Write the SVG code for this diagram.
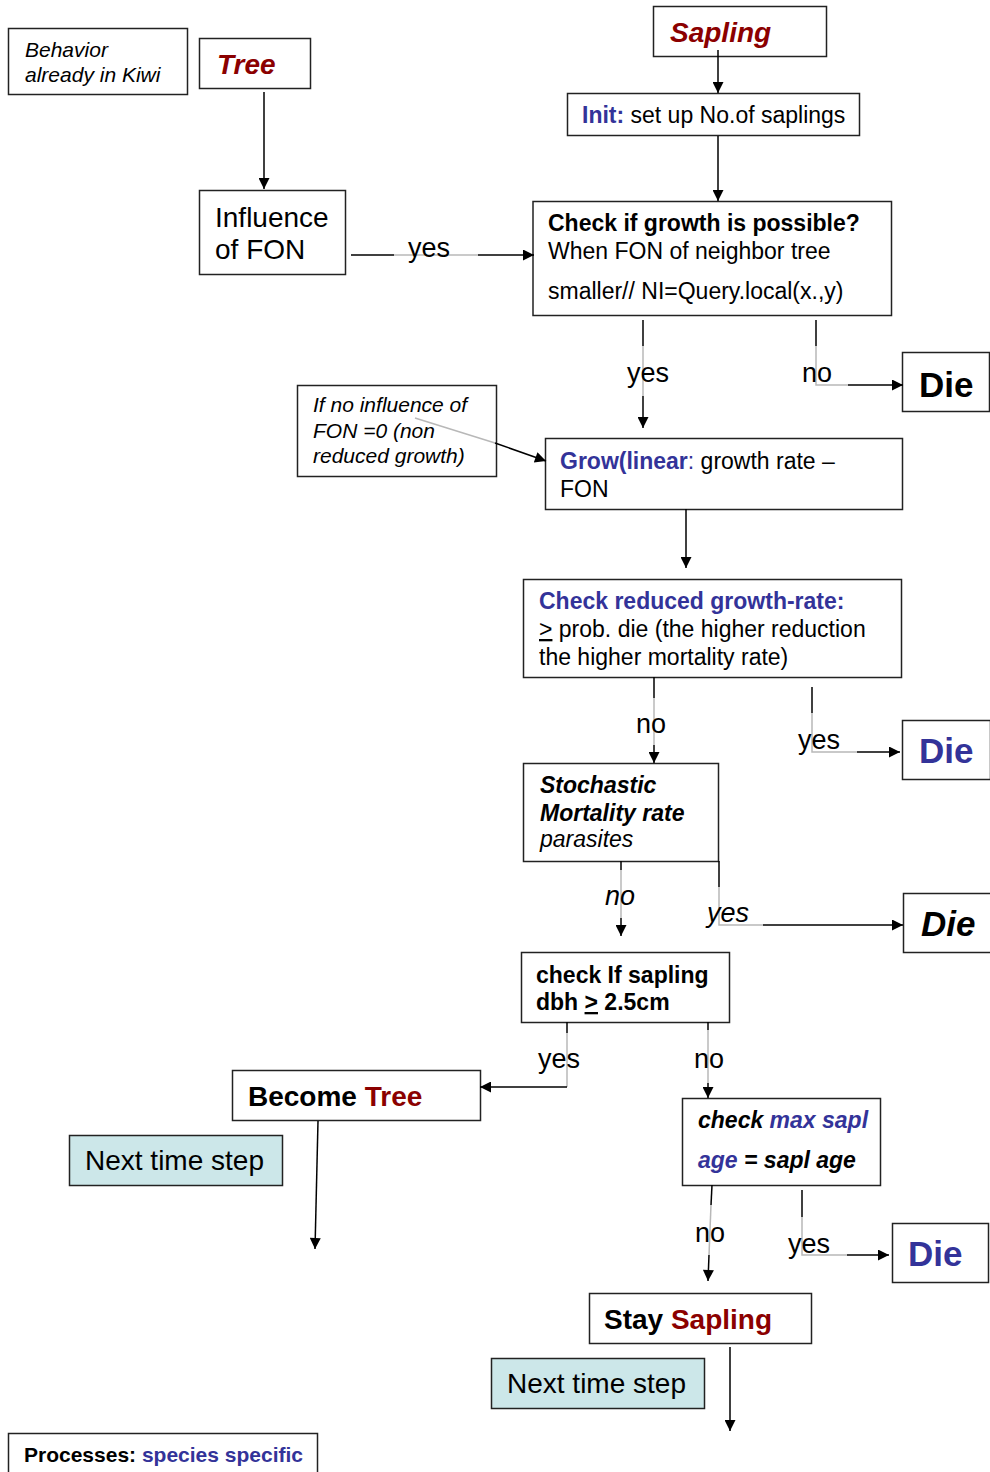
<svg xmlns="http://www.w3.org/2000/svg" width="990" height="1472" viewBox="0 0 990 1472">
<style>
text{font-family:"Liberation Sans",Arial,sans-serif;fill:#000}
.box{fill:#fff;stroke:#222;stroke-width:1.5}
.nts{fill:#cce7e9;stroke:#222;stroke-width:1.5}
.big{font-size:28px}
.med{font-size:23px}
.sm{font-size:21px}
.die{font-size:35px;font-weight:bold}
.lbl{font-size:27px}
.b{font-weight:bold}
.i{font-style:italic}
.red{fill:#8b0000}
.blue{fill:#333399}
.c{fill:none;stroke:#000;stroke-width:1.5}
.g{fill:none;stroke:#b8b8b8;stroke-width:1.5}
.ca{fill:none;stroke:#000;stroke-width:1.5;marker-end:url(#ah)}
</style>
<defs>
<marker id="ah" viewBox="0 0 10 10" refX="10" refY="5" markerWidth="13" markerHeight="11" markerUnits="userSpaceOnUse" orient="auto">
<path d="M0,0 L10,5 L0,10 z" fill="#000"/>
</marker>
</defs>
<rect width="990" height="1472" fill="#fff"/>

<g id="behavior">
<rect class="box" x="8.5" y="28.5" width="179" height="66"/>
<text class="sm i" x="25" y="57">Behavior</text>
<text class="sm i" x="25" y="82">already in Kiwi</text>
</g>
<g id="tree">
<rect class="box" x="199.5" y="38.5" width="111" height="50"/>
<text class="big b i red" x="217" y="74">Tree</text>
</g>
<g id="influence">
<rect class="box" x="199.5" y="190.5" width="146" height="84"/>
<text class="big" x="215" y="227">Influence</text>
<text class="big" x="215" y="259">of FON</text>
</g>
<g id="sapling">
<rect class="box" x="653.5" y="6.5" width="173" height="50"/>
<text class="big b i red" x="670" y="42">Sapling</text>
</g>
<g id="init">
<rect class="box" x="567.5" y="93.5" width="292" height="42"/>
<text class="med" x="582" y="123"><tspan class="b blue">Init:</tspan> set up No.of saplings</text>
</g>
<g id="check-growth">
<rect class="box" x="533" y="201.5" width="358.5" height="114"/>
<text class="med b" x="548" y="231">Check if growth is possible?</text>
<text class="med" x="548" y="259">When FON of neighbor tree</text>
<text class="med" x="548" y="299">smaller// NI=Query.local(x.,y)</text>
</g>
<g id="die1">
<rect class="box" x="902.5" y="352.5" width="87" height="59"/>
<text class="die" x="919" y="397">Die</text>
</g>
<g id="note">
<rect class="box" x="297.5" y="385.5" width="199" height="91"/>
<text class="sm i" x="313" y="412">If no influence of</text>
<text class="sm i" x="313" y="438">FON =0 (non</text>
<text class="sm i" x="313" y="463">reduced growth)</text>
</g>
<g id="grow">
<rect class="box" x="545.5" y="438.5" width="357" height="71"/>
<text class="med" x="560" y="469"><tspan class="b blue">Grow(linear</tspan><tspan class="blue">:</tspan> growth rate –</text>
<text class="med" x="560" y="497">FON</text>
</g>
<g id="check-reduced">
<rect class="box" x="523.5" y="579.5" width="378" height="98"/>
<text class="med b blue" x="539" y="609">Check reduced growth-rate:</text>
<text class="med" x="539" y="637"><tspan text-decoration="underline">&gt;</tspan> prob. die (the higher reduction</text>
<text class="med" x="539" y="665">the higher mortality rate)</text>
</g>
<g id="die2">
<rect class="box" x="902.5" y="720.5" width="88" height="59"/>
<text class="die blue" x="919" y="763">Die</text>
</g>
<g id="stochastic">
<rect class="box" x="523.5" y="763.5" width="195" height="98"/>
<text class="med b i" x="540" y="793">Stochastic</text>
<text class="med b i" x="540" y="821">Mortality rate</text>
<text class="med i" x="540" y="847">parasites</text>
</g>
<g id="die3">
<rect class="box" x="903.5" y="893.5" width="88" height="59"/>
<text class="die i" x="921" y="936">Die</text>
</g>
<g id="check-dbh">
<rect class="box" x="521.5" y="952.5" width="208" height="70"/>
<text class="med b" x="536" y="983">check If sapling</text>
<text class="med b" x="536" y="1010">dbh <tspan text-decoration="underline">&gt;</tspan> 2.5cm</text>
</g>
<g id="become-tree">
<rect class="box" x="232.5" y="1070.5" width="248" height="50"/>
<text class="big b" x="248" y="1106">Become <tspan class="red">Tree</tspan></text>
</g>
<g id="next1">
<rect class="nts" x="69.5" y="1135.5" width="213" height="50"/>
<text class="big" x="85" y="1170">Next time step</text>
</g>
<g id="check-age">
<rect class="box" x="682.5" y="1098.5" width="198" height="87"/>
<text class="med b i" x="698" y="1128">check <tspan class="blue">max sapl</tspan></text>
<text class="med b i" x="698" y="1168"><tspan class="blue">age</tspan> = sapl age</text>
</g>
<g id="die4">
<rect class="box" x="892.5" y="1223.5" width="96" height="59"/>
<text class="die blue" x="908" y="1266">Die</text>
</g>
<g id="stay-sapling">
<rect class="box" x="589.5" y="1293.5" width="222" height="50"/>
<text class="big b" x="604" y="1329">Stay <tspan class="red">Sapling</tspan></text>
</g>
<g id="next2">
<rect class="nts" x="491.5" y="1358.5" width="213" height="50"/>
<text class="big" x="507" y="1393">Next time step</text>
</g>
<g id="processes">
<rect class="box" x="8.5" y="1433.5" width="309" height="45"/>
<text class="b" font-size="21" x="24" y="1462">Processes: <tspan class="blue">species specific</tspan></text>
</g>

<g id="connectors">
<line class="ca" x1="264" y1="92" x2="264" y2="189"/>
<line class="c" x1="351" y1="255" x2="394" y2="255"/>
<line class="g" x1="394" y1="255" x2="478" y2="255"/>
<line class="ca" x1="478" y1="255" x2="534" y2="255"/>
<line class="ca" x1="718" y1="50" x2="718" y2="93"/>
<line class="ca" x1="718" y1="136" x2="718" y2="201"/>
<line class="c" x1="643" y1="320" x2="643" y2="346"/>
<line class="g" x1="643" y1="346" x2="643" y2="396"/>
<line class="ca" x1="643" y1="396" x2="643" y2="428"/>
<line class="c" x1="816" y1="320" x2="816" y2="346"/>
<polyline class="g" points="816,346 816,385 848,385"/>
<line class="ca" x1="848" y1="385" x2="903" y2="385"/>
<line class="g" x1="415" y1="418" x2="495" y2="443"/>
<line class="ca" x1="495" y1="443" x2="546" y2="461"/>
<line class="ca" x1="686" y1="509" x2="686" y2="568"/>
<line class="c" x1="654" y1="677" x2="654" y2="698"/>
<line class="g" x1="654" y1="698" x2="654" y2="745"/>
<line class="ca" x1="654" y1="745" x2="654" y2="763"/>
<line class="c" x1="812" y1="687" x2="812" y2="713"/>
<polyline class="g" points="812,713 812,752 857,752"/>
<line class="ca" x1="857" y1="752" x2="900" y2="752"/>
<line class="c" x1="621" y1="861" x2="621" y2="870"/>
<line class="g" x1="621" y1="870" x2="621" y2="918"/>
<line class="ca" x1="621" y1="918" x2="621" y2="936"/>
<line class="c" x1="719" y1="861" x2="719" y2="887"/>
<polyline class="g" points="719,887 719,925 763,925"/>
<line class="ca" x1="763" y1="925" x2="903" y2="925"/>
<line class="c" x1="567" y1="1022" x2="567" y2="1033"/>
<line class="g" x1="567" y1="1033" x2="567" y2="1087"/>
<polyline class="ca" points="567,1087 480,1087"/>
<line class="c" x1="708" y1="1022" x2="708" y2="1030"/>
<line class="g" x1="708" y1="1030" x2="708" y2="1083"/>
<line class="ca" x1="708" y1="1083" x2="708" y2="1098"/>
<line class="ca" x1="318" y1="1121" x2="315" y2="1249"/>
<line class="c" x1="712" y1="1185" x2="711" y2="1205"/>
<line class="g" x1="711" y1="1205" x2="709" y2="1255"/>
<line class="ca" x1="709" y1="1255" x2="708" y2="1281"/>
<line class="c" x1="802" y1="1190" x2="802" y2="1217"/>
<polyline class="g" points="802,1217 802,1255 847,1255"/>
<line class="ca" x1="847" y1="1255" x2="889" y2="1255"/>
<line class="ca" x1="730" y1="1347" x2="730" y2="1431"/>
<text class="lbl" x="408" y="257">yes</text>
<text class="lbl" x="627" y="382">yes</text>
<text class="lbl" x="802" y="382">no</text>
<text class="lbl" x="636" y="733">no</text>
<text class="lbl" x="798" y="749">yes</text>
<text class="lbl i" x="605" y="905">no</text>
<text class="lbl i" x="707" y="922">yes</text>
<text class="lbl" x="538" y="1068">yes</text>
<text class="lbl" x="694" y="1068">no</text>
<text class="lbl" x="695" y="1242">no</text>
<text class="lbl" x="788" y="1253">yes</text>
</g>
</svg>
